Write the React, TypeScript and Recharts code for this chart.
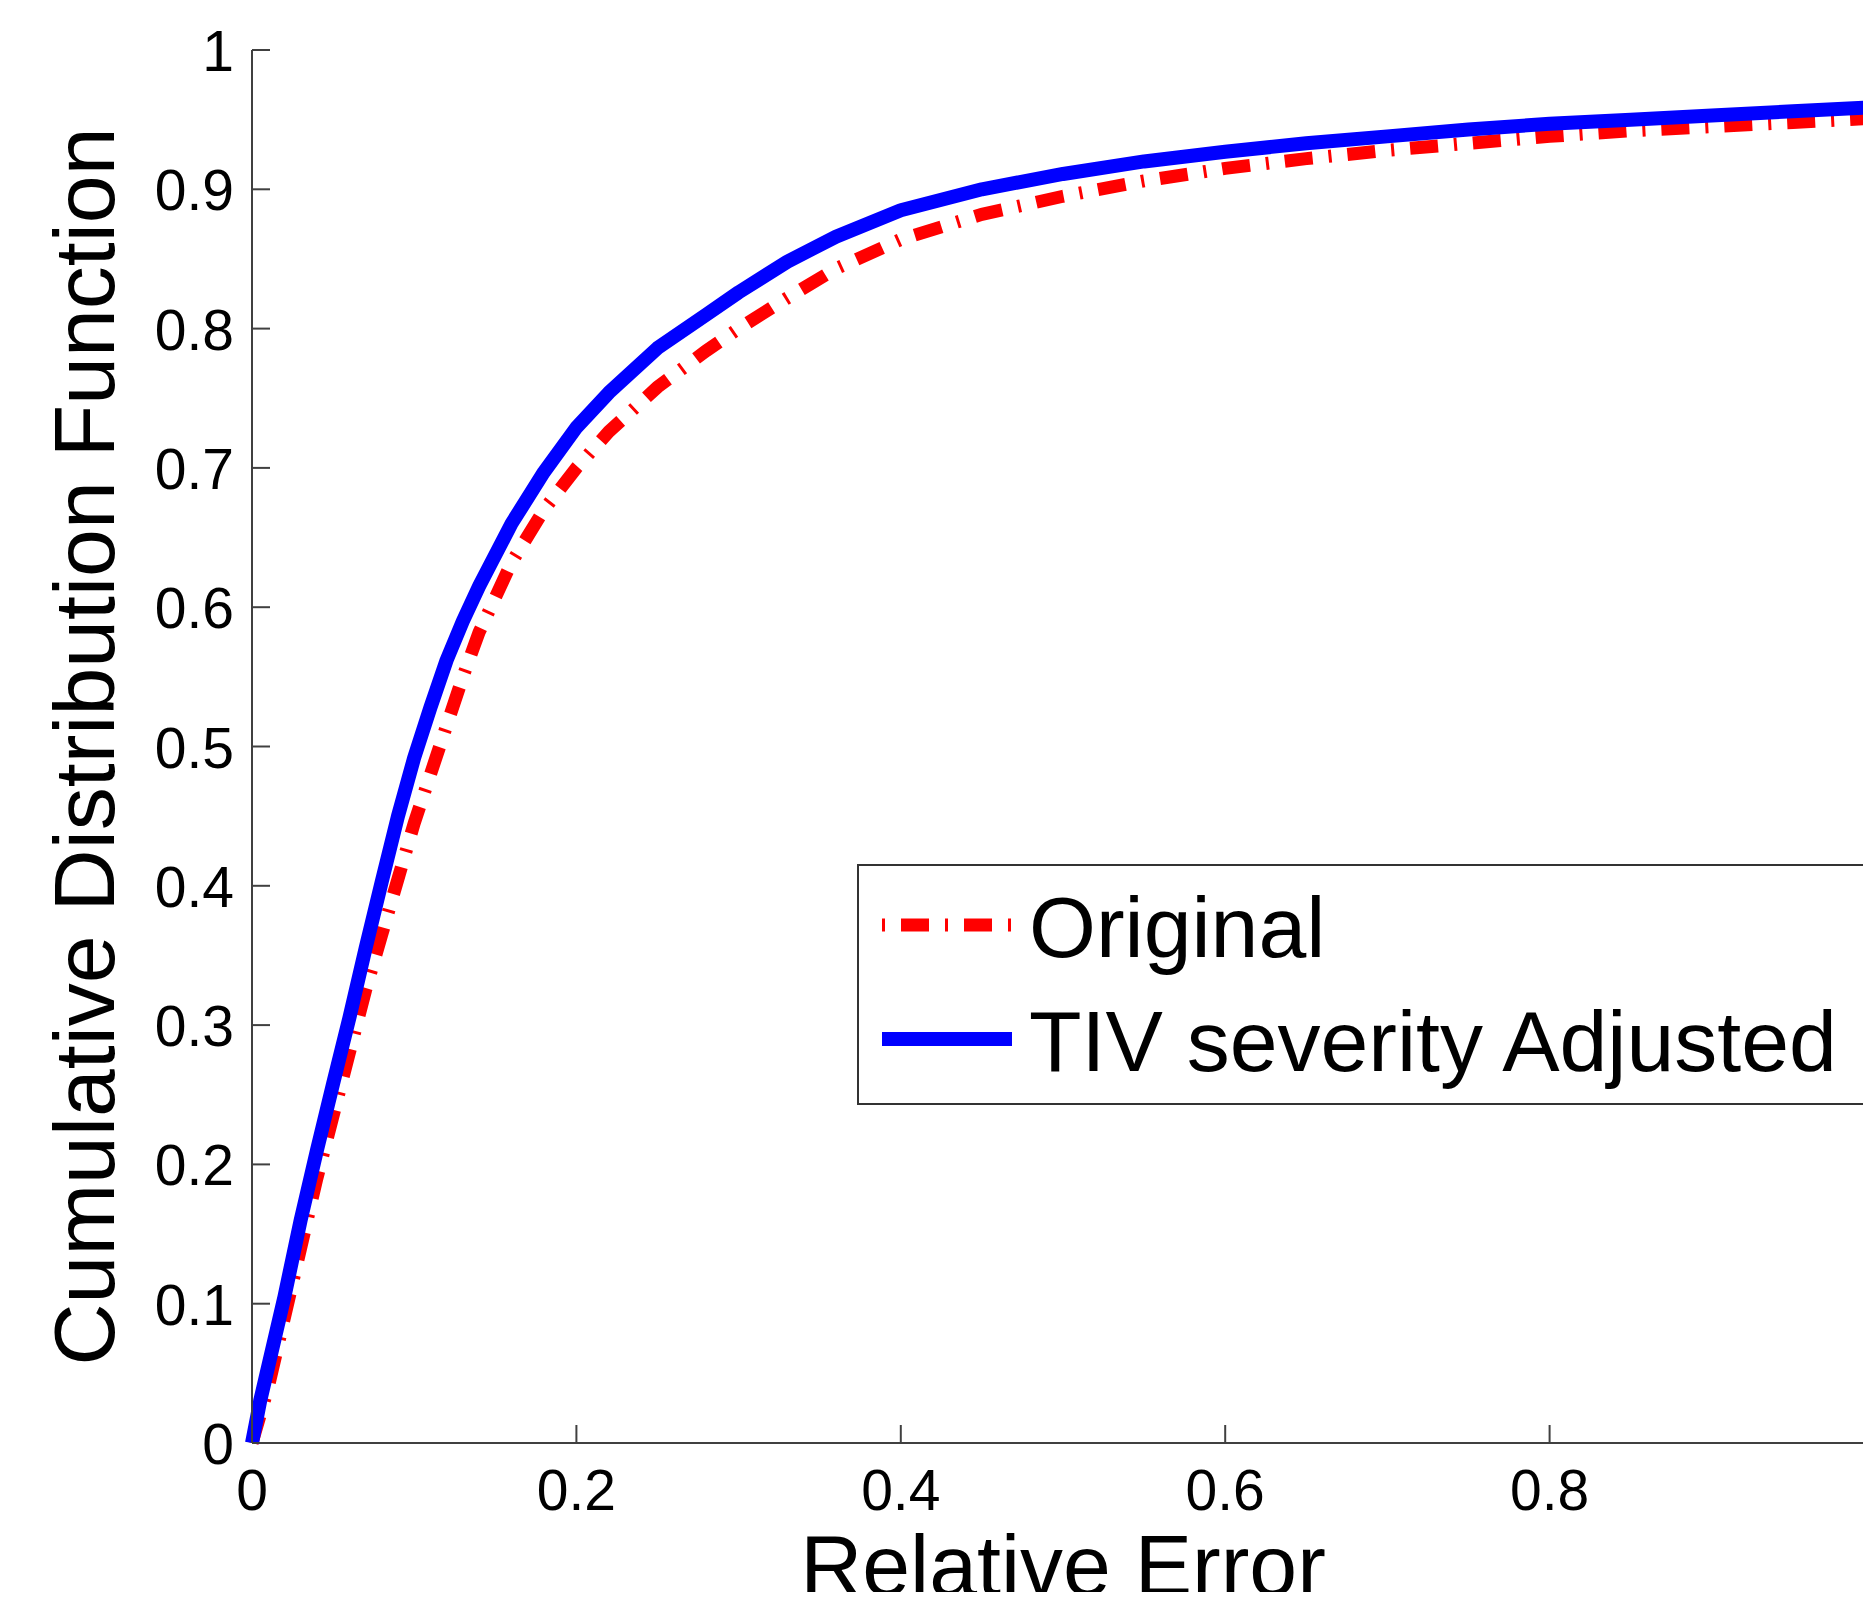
import { LineChart, Line, XAxis, YAxis, Legend, Label } from "recharts";

const relativeError = [
  0, 0.005, 0.01, 0.02, 0.03, 0.04, 0.05, 0.06, 0.07, 0.08, 0.09, 0.1, 0.11, 0.12, 0.13, 0.14, 0.16,
  0.18, 0.2, 0.22, 0.25, 0.28, 0.3, 0.33, 0.36, 0.4, 0.45, 0.5, 0.55, 0.6, 0.65, 0.7, 0.75, 0.8,
  0.85, 0.9, 0.95, 1.0,
];
const cdfOriginal = [
  0, 0.02, 0.04, 0.09, 0.14, 0.19, 0.235, 0.28, 0.325, 0.365, 0.405, 0.445, 0.48, 0.515, 0.55,
  0.582, 0.632, 0.67, 0.7, 0.726, 0.758, 0.784, 0.8, 0.822, 0.843, 0.864, 0.882, 0.895, 0.906,
  0.915, 0.922, 0.928, 0.933, 0.938, 0.942, 0.945, 0.948, 0.951,
];
const cdfAdjusted = [
  0, 0.03, 0.055, 0.105, 0.16, 0.21, 0.258, 0.305, 0.355, 0.403, 0.45, 0.492, 0.528, 0.562, 0.59,
  0.615, 0.66, 0.697, 0.729, 0.754, 0.786, 0.81, 0.826, 0.848, 0.866, 0.885, 0.9, 0.911, 0.92,
  0.927, 0.933, 0.938, 0.943, 0.947, 0.95, 0.953, 0.956, 0.959,
];
// the 1.0 tick falls just past the right edge of the picture
const xTicks = [0, 0.2, 0.4, 0.6, 0.8];
const yTicks = [0, 0.1, 0.2, 0.3, 0.4, 0.5, 0.6, 0.7, 0.8, 0.9, 1];

const FONT = '"Liberation Sans", Arial, Helvetica, sans-serif';
const AXIS = "#404040";
const RED_DASH = "28 16 3 16";
const LEGEND_DASH = "3 16 28 16";

const data = relativeError.map((x, i) => ({
  x,
  original: cdfOriginal[i],
  adjusted: cdfAdjusted[i],
}));

const fmt = (v: number) => (v === 0 || v === 1 ? String(v) : v.toFixed(1));

function XTick({ x, y, payload }: any) {
  return (
    <g>
      <line x1={x} x2={x} y1={y} y2={y - 18} stroke={AXIS} strokeWidth={2} />
      <text x={x} y={y + 67} textAnchor="middle" fontSize={57} fontFamily={FONT} fill="#000">
        {fmt(payload.value)}
      </text>
    </g>
  );
}

function YTick({ x, y, payload }: any) {
  return (
    <g>
      <line x1={x} x2={x + 18} y1={y} y2={y} stroke={AXIS} strokeWidth={2} />
      <text x={x - 18} y={y + 21} textAnchor="end" fontSize={57} fontFamily={FONT} fill="#000">
        {fmt(payload.value)}
      </text>
    </g>
  );
}

function LegendBox({ payload }: any) {
  return (
    <svg width={1030} height={241} style={{ display: "block" }}>
      <rect x={1} y={1} width={1060} height={239} fill="#fff" stroke="#333" strokeWidth={2} />
      {(payload || []).map((p: any, i: number) => {
        const cy = 61 + i * 114;
        const dashed = p.value === "Original";
        return (
          <g key={p.value}>
            <line
              x1={25}
              x2={155}
              y1={cy}
              y2={cy}
              stroke={p.color}
              strokeWidth={dashed ? 13 : 14}
              strokeDasharray={dashed ? LEGEND_DASH : undefined}
            />
            <text x={172} y={cy + 32} fontSize={86} fontFamily={FONT} fill="#000">
              {p.value}
            </text>
          </g>
        );
      })}
    </svg>
  );
}

export default function App() {
  return (
    <div
      style={{
        position: "absolute",
        left: 0,
        top: 0,
        width: 1863,
        height: 1592,
        overflow: "hidden",
        background: "#fff",
      }}
    >
      <LineChart width={1900} height={1592} data={data} margin={{ top: 50, right: 26, bottom: 0, left: 0 }}>
        <XAxis
          dataKey="x"
          type="number"
          domain={[0, 1]}
          ticks={xTicks}
          interval={0}
          height={149}
          tickSize={0}
          tickMargin={0}
          tickLine={false}
          axisLine={{ stroke: AXIS, strokeWidth: 2 }}
          tick={(props: any) => <XTick {...props} />}
        >
          <Label
            content={({ viewBox }: any) => (
              <text
                x={viewBox.x + viewBox.width / 2}
                y={viewBox.y + 152}
                textAnchor="middle"
                fontSize={86}
                fontFamily={FONT}
                fill="#000"
              >
                Relative Error
              </text>
            )}
          />
        </XAxis>
        <YAxis
          type="number"
          domain={[0, 1]}
          ticks={yTicks}
          interval={0}
          width={252}
          tickSize={0}
          tickMargin={0}
          tickLine={false}
          axisLine={{ stroke: AXIS, strokeWidth: 2 }}
          tick={(props: any) => <YTick {...props} />}
        >
          <Label
            content={({ viewBox }: any) => {
              const lx = viewBox.x + 114;
              const ly = viewBox.y + viewBox.height / 2;
              return (
                <text
                  x={lx}
                  y={ly}
                  textAnchor="middle"
                  transform={`rotate(-90, ${lx}, ${ly})`}
                  fontSize={86}
                  fontFamily={FONT}
                  fill="#000"
                >
                  Cumulative Distribution Function
                </text>
              );
            }}
          />
        </YAxis>
        <Legend
          layout="horizontal"
          verticalAlign="middle"
          align="center"
          wrapperStyle={{ left: 857, top: 864, width: 1030, height: 241 }}
          content={(props: any) => <LegendBox {...props} />}
        />
        <Line
          type="linear"
          dataKey="original"
          name="Original"
          stroke="#ff0000"
          strokeWidth={13}
          strokeDasharray={RED_DASH}
          strokeLinecap="butt"
          dot={false}
          activeDot={false}
          isAnimationActive={false}
        />
        <Line
          type="linear"
          dataKey="adjusted"
          name="TIV severity Adjusted"
          stroke="#0000ff"
          strokeWidth={14}
          strokeLinejoin="round"
          dot={false}
          activeDot={false}
          isAnimationActive={false}
        />
      </LineChart>
    </div>
  );
}
